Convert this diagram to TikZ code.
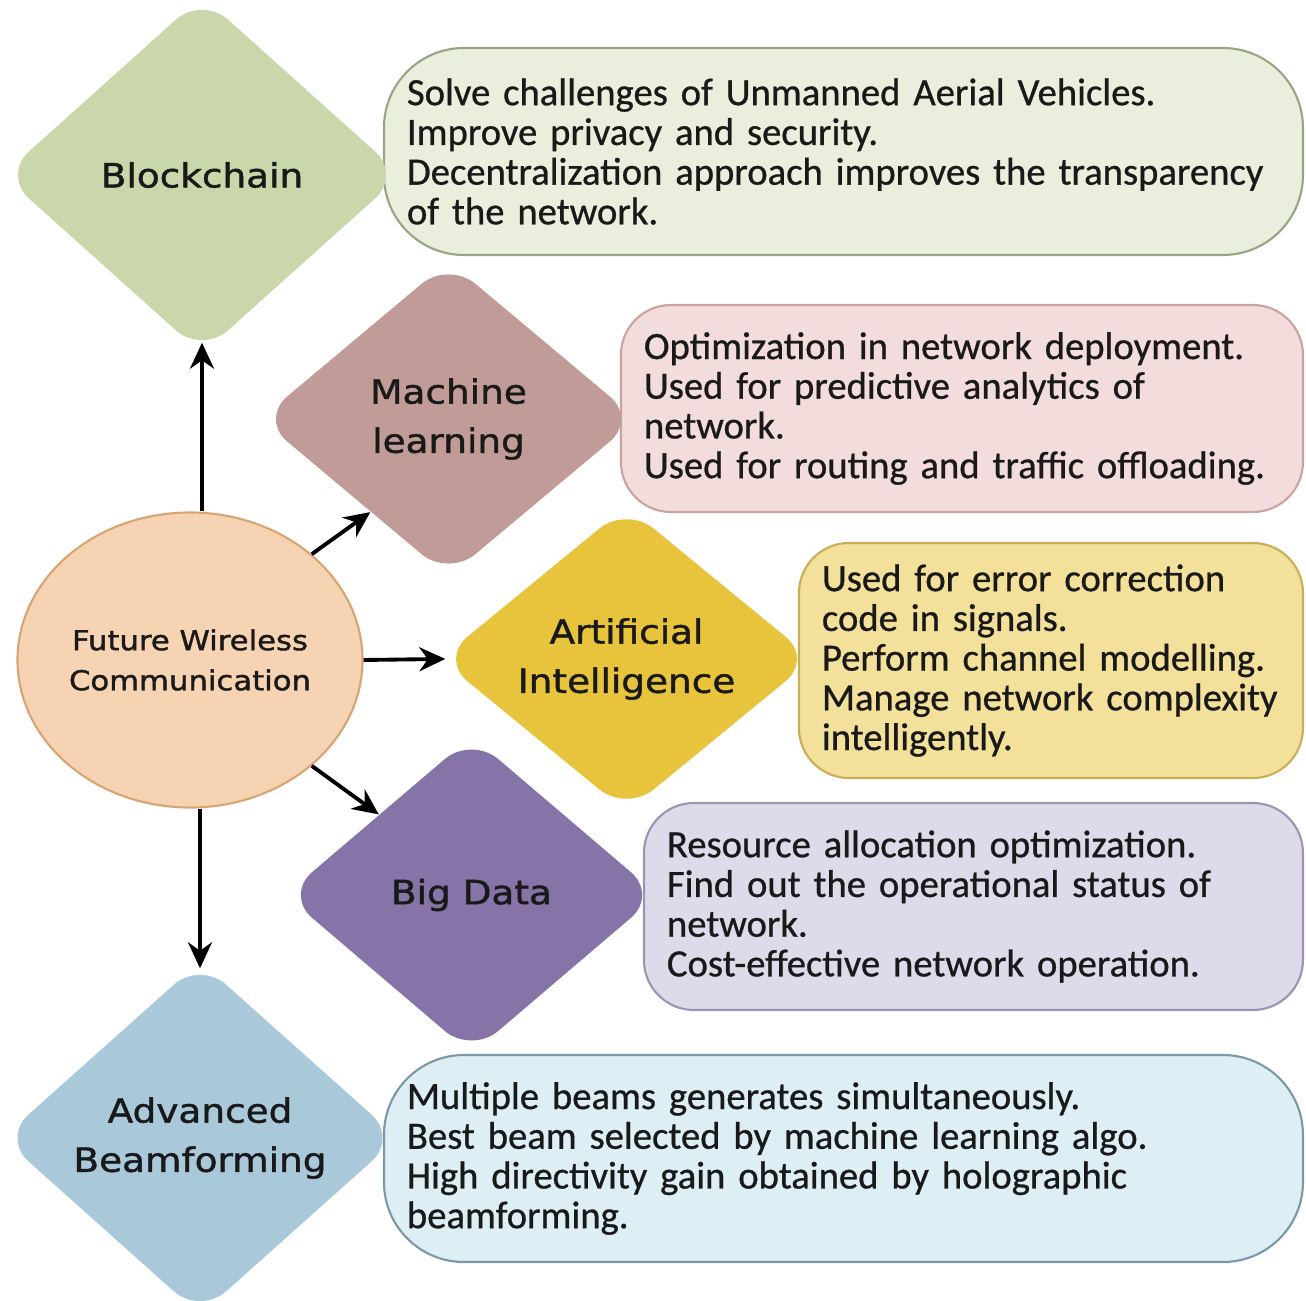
\documentclass[tikz,border=0pt]{standalone}
\usepackage{fontspec}
\usepackage{tikz}
\usetikzlibrary{positioning, arrows.meta, shapes.geometric, calc}
\newfontfamily\notefont[FakeBold=0.7]{Carlito}
\newfontfamily\tagfont[FakeStretch=1.12, FakeBold=1.3]{DejaVu Sans}

\definecolor{bcDark}{HTML}{C9D7AA}  \definecolor{bcLight}{HTML}{E9EFDC}  \definecolor{bcLine}{HTML}{97A583}
\definecolor{mlDark}{HTML}{C19B97}  \definecolor{mlLight}{HTML}{F2DDDC}  \definecolor{mlLine}{HTML}{C9A3A2}
\definecolor{aiDark}{HTML}{E8C33C}  \definecolor{aiLight}{HTML}{F3E09A}  \definecolor{aiLine}{HTML}{C9AE55}
\definecolor{bdDark}{HTML}{8674A9}  \definecolor{bdLight}{HTML}{DFDAE9}  \definecolor{bdLine}{HTML}{9D93B3}
\definecolor{abDark}{HTML}{A9C9DB}  \definecolor{abLight}{HTML}{DDEEF5}  \definecolor{abLine}{HTML}{7A98A8}
\definecolor{hubFill}{HTML}{F6D3B2} \definecolor{hubLine}{HTML}{D8A472}

\tikzset{
  topic/.style ={diamond, rounded corners=3.5mm, inner sep=-8pt, align=center,
                 font=\tagfont\fontsize{9.5}{14}\selectfont, text=black!90},
  note/.style  ={draw, line width=0.6pt, rounded corners=5mm, align=left, anchor=east,
                 inner xsep=2.3mm, inner ysep=0pt, minimum height=2.07cm,
                 font=\notefont\fontsize{11}{11.3}\selectfont, text=black!90},
  hub/.style   ={ellipse, draw=hubLine, fill=hubFill, line width=0.6pt, inner sep=0pt,
                 align=center, font=\tagfont\fontsize{7.8}{11.4}\selectfont, text=black!90},
  flow/.style  ={-{Stealth[length=2.6mm, width=2.4mm]}, line width=1.1pt},
}

\begin{document}
\begin{tikzpicture}
  \useasboundingbox (0,0) rectangle (13.06,-13.00);

  % description boxes
  \node[note, draw=bcLine, fill=bcLight, text width=8.73cm, rounded corners=8mm] (bcNote) at (13.04,-1.515)
    {Solve challenges of Unmanned Aerial Vehicles.\\ Improve privacy and security.\\
     Decentralization approach improves the transparency\\ of the network.};
  \node[note, draw=mlLine, fill=mlLight, text width=6.36cm] (mlNote) at (13.04,-4.085)
    {Optimization in network deployment.\\ Used for predictive analytics of\\ network.\\
     Used for routing and traffic offloading.};
  \node[note, draw=aiLine, fill=aiLight, text width=4.58cm, minimum height=2.35cm] (aiNote) at (13.04,-6.605)
    {Used for error correction\\ code in signals.\\ Perform channel modelling.\\
     Manage network complexity\\ intelligently.};
  \node[note, draw=bdLine, fill=bdLight, text width=6.13cm] (bdNote) at (13.04,-9.065)
    {Resource allocation optimization.\\ Find out the operational status of\\ network.\\
     Cost-effective network operation.};
  \node[note, draw=abLine, fill=abLight, text width=8.73cm, rounded corners=8mm] (abNote) at (13.04,-11.585)
    {Multiple beams generates simultaneously.\\ Best beam selected by machine learning algo.\\
     High directivity gain obtained by holographic\\ beamforming.};

  % technologies
  \node[topic, fill=bcDark, minimum width=3.99cm, minimum height=3.58cm] (bc) at (2.02,-1.75)   {Blockchain};
  \node[topic, fill=mlDark, minimum width=3.77cm, minimum height=3.16cm] (ml) at (4.485,-4.19)  {Machine\\ learning};
  \node[topic, fill=aiDark, minimum width=3.73cm, minimum height=3.06cm] (ai) at (6.265,-6.59)  {Artificial\\ Intelligence};
  \node[topic, fill=bdDark, minimum width=3.73cm, minimum height=3.18cm] (bd) at (4.715,-8.95)  {Big Data};
  \node[topic, fill=abDark, minimum width=3.96cm, minimum height=3.54cm] (ab) at (2.00,-11.38)  {Advanced\\ Beamforming};

  \node[hub, minimum width=3.45cm, minimum height=2.95cm] (fwc) at (1.90,-6.60)
    {Future Wireless\\ Communication};

  \draw[flow, shorten >=-1.2mm] (bc.south |- fwc.north) -- (bc.south);
  \draw[flow] (fwc.41)  -- (ml.230);
  \draw[flow, shorten >=-0.6mm] (fwc.east) -- (ai.west);
  \draw[flow] (fwc.-41) -- (bd.139);
  \draw[flow, shorten >=-0.8mm] (ab.north |- fwc.south) -- (ab.north);
\end{tikzpicture}
\end{document}
